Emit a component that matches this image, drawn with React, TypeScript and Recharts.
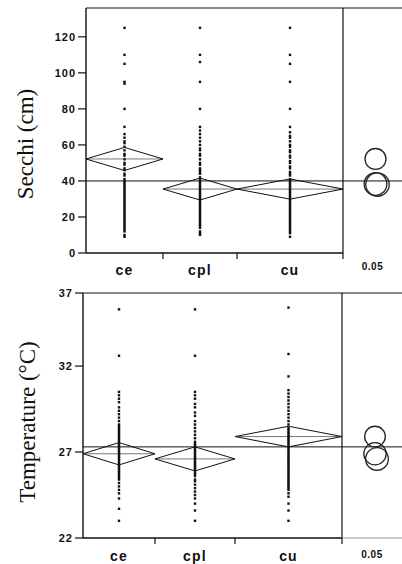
import React from "react";
import { ComposedChart, ReferenceLine, Scatter, XAxis, YAxis } from "recharts";

document.body.style.margin = "0";

const GROUPS = ["ce", "cpl", "cu"];
const ALPHA_LABEL = "0.05";

// Secchi depth (cm)
const SECCHI_WIDTHS = [77, 74, 106]; // group widths, proportional to n
const SECCHI_COMPARE_WIDTH = 59;
const SECCHI_MEANS = [52.2, 35.5, 35.5];
const SECCHI_HALF_CI = [6.4, 6.1, 5.6];
const SECCHI_GRAND_MEAN = 40;
const SECCHI_CIRCLE_Y = [52.2, 38.0, 38.3];
const SECCHI_CIRCLE_R = [5.8, 6.5, 6.3];
const SECCHI_TICKS = [0, 20, 40, 60, 80, 100, 120];
const SECCHI_DOMAIN = [0, 136];
const SECCHI_CE = [125, 110, 105, 95, 94, 80, 70, 66, 64, 62, 61, 59, 57, 55, 54, 52, 50, 49, 47, 46, 44, 43, 41, 40, 39, 38, 37, 36, 35, 34, 33, 32, 31, 30, 29, 28, 27, 26, 25, 24, 23, 22, 21, 20, 19, 18, 17, 16, 15, 14, 13, 12, 10, 9];
const SECCHI_CPL = [125, 110, 106, 95, 80, 70, 68, 66, 64, 62, 60, 58, 57, 55, 54, 52, 50, 49, 47, 46, 45, 44, 42, 41, 40, 39, 38, 37, 36, 35, 34, 33, 32, 31, 30, 29, 28, 27, 26, 25, 24, 23, 22, 21, 20, 19, 18, 17, 16, 15, 14, 12, 11, 10];
const SECCHI_CU = [125, 110, 105, 95, 80, 70, 67, 65, 64, 62, 60, 59, 57, 56, 54, 53, 51, 50, 48, 47, 45, 44, 43, 41, 40, 39, 38, 37, 36, 35, 34, 33, 32, 31, 30, 29, 28, 27, 26, 25, 24, 23, 22, 21, 20, 19, 18, 17, 16, 15, 14, 13, 12, 11, 9];

// Temperature (°C)
const TEMP_WIDTHS = [72, 80, 107];
const TEMP_COMPARE_WIDTH = 60;
const TEMP_MEANS = [26.9, 26.6, 27.9];
const TEMP_HALF_CI = [0.65, 0.7, 0.6];
const TEMP_GRAND_MEAN = 27.3;
const TEMP_CIRCLE_Y = [26.9, 26.6, 27.9];
const TEMP_CIRCLE_R = [0.65, 0.66, 0.6];
const TEMP_TICKS = [22, 27, 32, 36.25];
const TEMP_TICK_LABELS = ["22", "27", "32", "37"];
const TEMP_DOMAIN = [22, 36.25];
const TEMP_CE = [35.3, 32.6, 30.5, 30.3, 30.1, 29.9, 29.6, 29.4, 29.2, 29.0, 28.8, 28.6, 28.5, 28.4, 28.3, 28.2, 28.1, 28.0, 27.9, 27.8, 27.7, 27.6, 27.5, 27.4, 27.3, 27.2, 27.1, 27.0, 26.9, 26.8, 26.7, 26.6, 26.5, 26.4, 26.3, 26.2, 26.1, 26.0, 25.9, 25.8, 25.7, 25.6, 25.5, 25.4, 25.2, 25.0, 24.8, 24.6, 24.3, 23.7, 23.0];
const TEMP_CPL = [35.3, 32.6, 30.5, 30.3, 30.1, 29.8, 29.6, 29.3, 29.1, 28.8, 28.6, 28.4, 28.2, 28.0, 27.8, 27.6, 27.5, 27.4, 27.3, 27.2, 27.1, 27.0, 26.9, 26.8, 26.7, 26.6, 26.5, 26.4, 26.3, 26.2, 26.1, 26.0, 25.9, 25.8, 25.7, 25.6, 25.4, 25.3, 25.1, 24.9, 24.7, 24.5, 24.3, 24.0, 23.6, 23.0];
const TEMP_CU = [35.4, 32.7, 31.4, 30.6, 30.4, 30.2, 30.0, 29.8, 29.6, 29.4, 29.2, 29.0, 28.8, 28.6, 28.4, 28.3, 28.2, 28.1, 28.0, 27.9, 27.8, 27.7, 27.6, 27.5, 27.4, 27.3, 27.2, 27.1, 27.0, 26.9, 26.8, 26.7, 26.6, 26.5, 26.4, 26.3, 26.2, 26.1, 26.0, 25.9, 25.8, 25.7, 25.6, 25.5, 25.4, 25.3, 25.2, 25.1, 25.0, 24.9, 24.8, 24.6, 24.4, 24.0, 23.6, 23.0];

const INK = "#111";
const SANS = "'Liberation Sans', Arial, sans-serif";
const SERIF = "'Liberation Serif', 'Times New Roman', serif";
const Y_AXIS_W = 40;
const CIRCLE_DX = [0, 2, 0];

type PanelProps = {
  widths: number[];
  compareWidth: number;
  means: number[];
  halfCi: number[];
  grandMean: number;
  circleY: number[];
  circleR: number[];
  points: number[][];
  domain: number[];
  ticks: number[];
  tickLabels?: string[];
  yLabel: string;
  labelX: number;
  labelY: number;
  height: number;
  plotLeft: number;
  plotTop: number;
  plotBottom: number;
  labelDy: number;
  alphaDy: number;
  extendBase?: boolean;
};

function YTitle({ text, tx, ty }: { text: string; tx: number; ty: number }) {
  return (
    <text
      x={tx}
      y={ty}
      transform={`rotate(-90 ${tx} ${ty})`}
      textAnchor="middle"
      dominantBaseline="central"
      fontFamily={SERIF}
      fontSize={23}
      fill={INK}
    >
      {text}
    </text>
  );
}

function Panel(p: PanelProps) {
  const starts: number[] = [];
  let acc = 0;
  p.widths.forEach((w) => {
    starts.push(acc);
    acc += w;
  });
  const groupTotal = acc;
  const total = groupTotal + p.compareWidth;
  const centers = p.widths.map((w, i) => starts[i] + w / 2);
  const compareCenter = groupTotal + p.compareWidth / 2;
  const pxPerUnit = (p.plotBottom - p.plotTop) / (p.domain[1] - p.domain[0]);

  const tickDefs = [
    ...centers.map((v, i) => ({ v, kind: "label", label: GROUPS[i] })),
    ...starts.slice(1).map((v) => ({ v, kind: "bound", label: "" })),
    { v: groupTotal, kind: "bound", label: "" },
    { v: compareCenter, kind: "alpha", label: ALPHA_LABEL },
  ].sort((a, b) => a.v - b.v);

  const dots = p.points.flatMap((vals, g) => vals.map((y) => ({ x: centers[g], y })));
  const circles = p.circleY.map((y, i) => ({ x: compareCenter + 3, y, r: p.circleR[i], i }));

  const renderTick = (props: any) => {
    const { x, y, payload } = props;
    const def = tickDefs.reduce((best, d) =>
      Math.abs(d.v - payload.value) < Math.abs(best.v - payload.value) ? d : best,
    );
    if (def.kind === "bound") {
      return <line x1={x} x2={x} y1={y} y2={y + 6} stroke={INK} strokeWidth={1.2} />;
    }
    if (def.kind === "alpha") {
      return (
        <text x={x} y={y + p.alphaDy} textAnchor="middle" fontFamily={SANS} fontSize={10} fontWeight={700} fill={INK} letterSpacing={0.5}>
          {def.label}
        </text>
      );
    }
    return (
      <text x={x} y={y + p.labelDy} textAnchor="middle" fontFamily={SANS} fontSize={14} fontWeight={700} fill={INK} letterSpacing={1.2}>
        {def.label}
      </text>
    );
  };

  return (
    <ComposedChart
      width={402}
      height={p.height}
      margin={{ top: p.plotTop, right: 0, bottom: 0, left: p.plotLeft - Y_AXIS_W }}
    >
      <XAxis
        type="number"
        dataKey="x"
        domain={[0, total]}
        allowDataOverflow
        ticks={tickDefs.map((d) => d.v)}
        interval={0}
        tick={renderTick}
        tickLine={false}
        tickSize={0}
        tickMargin={0}
        axisLine={false}
        height={p.height - p.plotBottom}
      />
      <YAxis
        type="number"
        dataKey="y"
        domain={p.domain}
        allowDataOverflow
        ticks={p.ticks}
        interval={0}
        width={Y_AXIS_W}
        tickSize={8}
        tickMargin={2}
        tickFormatter={(v: number) => (p.tickLabels ? p.tickLabels[p.ticks.indexOf(v)] : String(v))}
        tick={{ fill: INK, fontSize: 11, fontFamily: SANS, fontWeight: 700, letterSpacing: 1 }}
        tickLine={{ stroke: INK, strokeWidth: 1.2 }}
        axisLine={{ stroke: INK, strokeWidth: 1.4 }}
        label={<YTitle text={p.yLabel} tx={p.labelX} ty={p.labelY} />}
      />
      <ReferenceLine y={p.domain[1]} stroke={INK} strokeWidth={1.2} />
      <ReferenceLine x={groupTotal} stroke={INK} strokeWidth={1.2} />
      <ReferenceLine
        segment={[{ x: 0, y: p.domain[0] }, { x: groupTotal, y: p.domain[0] }]}
        stroke={INK}
        strokeWidth={1.4}
      />
      {p.extendBase && (
        <ReferenceLine
          segment={[{ x: groupTotal, y: p.domain[0] }, { x: total, y: p.domain[0] }]}
          stroke="#999"
          strokeWidth={1}
        />
      )}
      <ReferenceLine y={p.grandMean} stroke={INK} strokeWidth={1} />
      {p.means.map((m, i) => (
        <ReferenceLine
          key={`m${i}`}
          segment={[{ x: starts[i], y: m }, { x: starts[i] + p.widths[i], y: m }]}
          stroke="#777"
          strokeWidth={1}
        />
      ))}
      <Scatter
        data={dots}
        isAnimationActive={false}
        shape={(s: any) => <rect x={s.cx - 1.2} y={s.cy - 1.2} width={2.4} height={2.4} fill={INK} />}
      />
      {p.means.map((m, i) => (
        <Scatter
          key={`d${i}`}
          data={[
            { x: starts[i], y: m },
            { x: centers[i], y: m + p.halfCi[i] },
            { x: starts[i] + p.widths[i], y: m },
            { x: centers[i], y: m - p.halfCi[i] },
            { x: starts[i], y: m },
          ]}
          line={{ stroke: INK, strokeWidth: 1 }}
          lineType="joint"
          isAnimationActive={false}
          shape={() => <g />}
        />
      ))}
      <Scatter
        data={circles}
        isAnimationActive={false}
        shape={(s: any) => (
          <circle
            cx={s.cx + CIRCLE_DX[s.payload.i]}
            cy={s.cy}
            r={s.payload.r * pxPerUnit}
            fill="none"
            stroke="#222"
            strokeWidth={1.3}
          />
        )}
      />
    </ComposedChart>
  );
}

export default function App() {
  return (
    <div style={{ width: 402, height: 564, position: "relative", background: "#fff" }}>
      <div style={{ position: "absolute", left: 0, top: 0 }}>
        <Panel
          widths={SECCHI_WIDTHS}
          compareWidth={SECCHI_COMPARE_WIDTH}
          means={SECCHI_MEANS}
          halfCi={SECCHI_HALF_CI}
          grandMean={SECCHI_GRAND_MEAN}
          circleY={SECCHI_CIRCLE_Y}
          circleR={SECCHI_CIRCLE_R}
          points={[SECCHI_CE, SECCHI_CPL, SECCHI_CU]}
          domain={SECCHI_DOMAIN}
          ticks={SECCHI_TICKS}
          yLabel="Secchi (cm)"
          labelX={25}
          labelY={144}
          height={280}
          plotLeft={86}
          plotTop={8}
          plotBottom={253}
          labelDy={22}
          alphaDy={17}
        />
      </div>
      <div style={{ position: "absolute", left: 0, top: 280 }}>
        <Panel
          widths={TEMP_WIDTHS}
          compareWidth={TEMP_COMPARE_WIDTH}
          means={TEMP_MEANS}
          halfCi={TEMP_HALF_CI}
          grandMean={TEMP_GRAND_MEAN}
          circleY={TEMP_CIRCLE_Y}
          circleR={TEMP_CIRCLE_R}
          points={[TEMP_CE, TEMP_CPL, TEMP_CU]}
          domain={TEMP_DOMAIN}
          ticks={TEMP_TICKS}
          tickLabels={TEMP_TICK_LABELS}
          yLabel="Temperature (°C)"
          labelX={27}
          labelY={142}
          height={284}
          plotLeft={83}
          plotTop={13}
          plotBottom={258}
          labelDy={23}
          alphaDy={20}
          extendBase
        />
      </div>
    </div>
  );
}
